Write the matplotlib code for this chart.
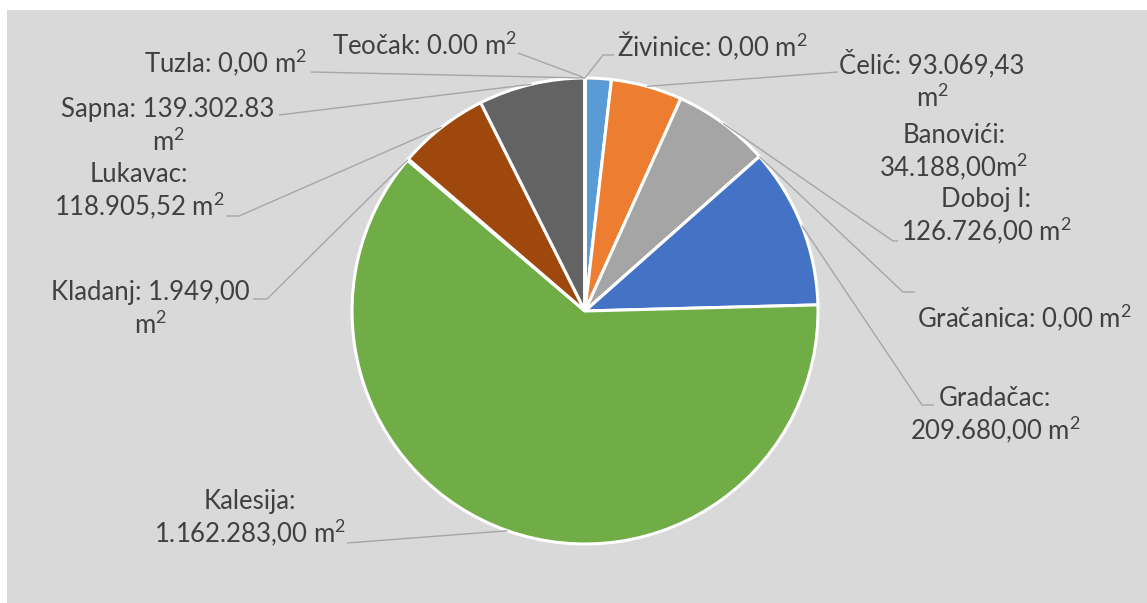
import matplotlib

matplotlib.use("Agg")
import matplotlib.pyplot as plt
import numpy as np
from matplotlib.patches import Rectangle

plt.rcParams["mathtext.fontset"] = "custom"
plt.rcParams["mathtext.rm"] = "Lato"
plt.rcParams["mathtext.it"] = "Lato"
plt.rcParams["mathtext.default"] = "regular"

# Alphabetical order, drawn clockwise from 12 o'clock (as in the Excel source).
municipalities = ["Banovići", "Čelić", "Doboj I", "Gračanica", "Gradačac", "Kalesija",
                  "Kladanj", "Lukavac", "Sapna", "Teočak", "Tuzla", "Živinice"]
areas_m2 = [34188.00, 93069.43, 126726.00, 0.0, 209680.00, 1162283.00,
            1949.00, 118905.52, 139302.83, 0.0, 0.0, 0.0]
M2 = r"m$^2$"
label_texts = ["Banovići:\n34.188,00" + M2, "Čelić: 93.069,43\n" + M2,
               "Doboj I:\n126.726,00 " + M2, "Gračanica: 0,00 " + M2,
               "Gradačac:\n209.680,00 " + M2, "Kalesija:\n1.162.283,00 " + M2,
               "Kladanj: 1.949,00\n" + M2, "Lukavac:\n118.905,52 " + M2,
               "Sapna: 139.302.83\n" + M2, "Teočak: 0.00 " + M2,
               "Tuzla: 0,00 " + M2, "Živinice: 0,00 " + M2]

# Office 2013 palette
COLORS = ["#5B9BD5", "#ED7D31", "#A5A5A5", "#FFC000", "#4472C4", "#70AD47",
          "#255E91", "#9E480E", "#636363", "#997300", "#264478", "#43682B"]
TEXT = "#404040"
LINE = "#A6A6A6"

W, H = 1147, 603
CX, CY, R = 585, 311, 233
LINE_STEP = 34  # px between label baselines

# label anchor: (centre x, first-line baseline y), px with y down
LABEL_POS = {
    "Banovići": (954, 143), "Čelić": (932, 73), "Doboj I": (986, 207),
    "Gračanica": (1024, 328), "Gradačac": (995, 406), "Kalesija": (250, 509),
    "Kladanj": (150, 300), "Lukavac": (139, 182), "Sapna": (168, 117),
    "Teočak": (424, 55), "Tuzla": (226, 73), "Živinice": (712, 56),
}
# leader elbow / end points after the slice edge point (px, y down)
LEADER = {
    "Čelić": [(838, 72)], "Doboj I": [(893, 241), (898, 241)],
    "Gračanica": [(903, 292), (915, 292)], "Gradačac": [(922, 405), (934, 405)],
    "Kalesija": [(347, 543)], "Kladanj": [(267, 299), (253, 299)],
    "Lukavac": [(239, 216), (226, 216)], "Sapna": [(279, 115)],
    "Teočak": [(518, 53)], "Tuzla": [(311, 72)], "Živinice": [(603, 55), (614, 55)],
}


def fy(y):
    return H - y


fig = plt.figure(figsize=(W / 100, H / 100), dpi=100)
ax = fig.add_axes([0, 0, 1, 1])
ax.add_patch(Rectangle((7, 0), W - 7, H - 10, facecolor="#D9D9D9", edgecolor="none", zorder=0))

wedges, _ = ax.pie(areas_m2, colors=COLORS, startangle=90, counterclock=False,
                   center=(CX, fy(CY)), radius=R, frame=True,
                   wedgeprops=dict(edgecolor="white", linewidth=2.2))
ax.set_xlim(0, W)
ax.set_ylim(0, H)
ax.set_aspect("equal")
ax.axis("off")

for name, wedge, txt in zip(municipalities, wedges, label_texts):
    mid = np.deg2rad((wedge.theta1 + wedge.theta2) / 2)
    ex, ey = CX + R * np.cos(mid), fy(CY) + R * np.sin(mid)
    if name in LEADER:
        pts = [(ex, ey)] + [(x, fy(y)) for x, y in LEADER[name]]
        xs, ys = zip(*pts)
        ax.plot(xs, ys, color=LINE, linewidth=1.0, zorder=1, solid_capstyle="butt")
    lx, ly = LABEL_POS[name]
    for k, line in enumerate(txt.split("\n")):
        ax.text(lx, fy(ly + k * LINE_STEP), line, ha="center", va="baseline",
                fontsize=18.5, color=TEXT, family="Lato")

fig.savefig("out.png", dpi=100, facecolor="white")
